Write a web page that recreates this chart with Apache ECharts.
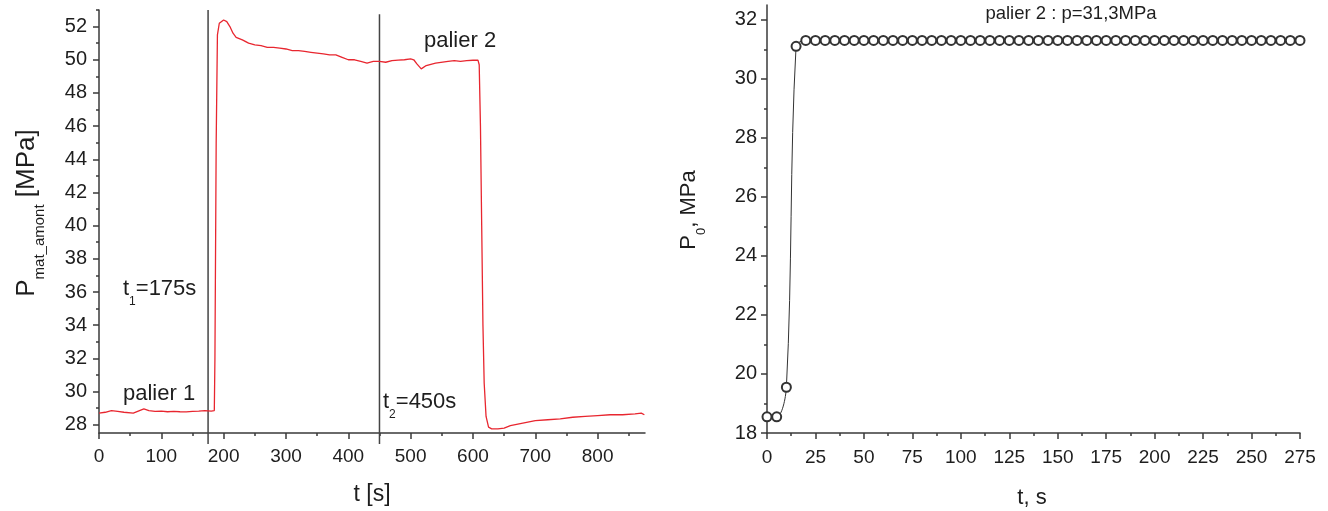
<!DOCTYPE html>
<html>
<head>
<meta charset="utf-8">
<script src="https://cdn.jsdelivr.net/npm/echarts@6/dist/echarts.min.js"></script>
<style>
html,body{margin:0;padding:0;background:#fff;}
#chart{width:1328px;height:511px;}
</style>
</head>
<body>
<div id="chart"></div>
<script>
// ---- Left chart data: P_mat_amont [MPa] vs t [s] ----
const leftTime = [0,10,20,30,40,55,65,72,80,90,100,110,120,130,140,150,160,170,180,185,186,188,190,193,200,205,210,215,220,230,240,250,260,270,280,290,300,310,320,330,340,350,360,370,380,390,400,410,420,430,440,450,460,470,480,490,500,505,510,517,525,540,560,570,580,590,600,608,610,612,614,616,618,621,625,630,640,650,660,680,700,720,740,760,780,800,820,840,860,870,875];
const leftPressure = [28.7,28.75,28.85,28.8,28.75,28.7,28.85,28.95,28.85,28.8,28.82,28.78,28.8,28.78,28.77,28.8,28.82,28.85,28.82,28.85,32,45,51.5,52.2,52.4,52.3,52.0,51.6,51.35,51.2,51.0,50.9,50.85,50.75,50.75,50.7,50.65,50.55,50.55,50.5,50.45,50.4,50.35,50.3,50.3,50.15,50.0,50.0,49.9,49.8,49.9,49.9,49.85,49.95,49.98,50.0,50.05,50.0,49.75,49.45,49.65,49.8,49.9,49.95,49.9,49.95,49.97,49.98,49.7,46,40,34,30.5,28.5,27.85,27.75,27.75,27.8,27.95,28.1,28.25,28.3,28.35,28.45,28.5,28.55,28.6,28.6,28.65,28.7,28.6];
const markerLines = [ {t:175, top:53, bottom:26.84}, {t:450, top:52.75, bottom:26.84} ];
const leftXLabels = [0,100,200,300,400,500,600,700,800];
const leftXMinor = [50,150,250,350,450,550,650,750,850];
const leftYLabels = [28,30,32,34,36,38,40,42,44,46,48,50,52];
const leftYMinor = [29,31,33,35,37,39,41,43,45,47,49,51,53];

// ---- Right chart data: P0, MPa vs t, s ----
const rightTime = [0,5,10,15,20,25,30,35,40,45,50,55,60,65,70,75,80,85,90,95,100,105,110,115,120,125,130,135,140,145,150,155,160,165,170,175,180,185,190,195,200,205,210,215,220,225,230,235,240,245,250,255,260,265,270,275];
const rightPressure = [18.55,18.55,19.55,31.1,31.3,31.3,31.3,31.3,31.3,31.3,31.3,31.3,31.3,31.3,31.3,31.3,31.3,31.3,31.3,31.3,31.3,31.3,31.3,31.3,31.3,31.3,31.3,31.3,31.3,31.3,31.3,31.3,31.3,31.3,31.3,31.3,31.3,31.3,31.3,31.3,31.3,31.3,31.3,31.3,31.3,31.3,31.3,31.3,31.3,31.3,31.3,31.3,31.3,31.3,31.3,31.3];
const rightYLabels = [18,20,22,24,26,28,30,32];
const rightYMinor = [19,21,23,25,27,29,31];

const FONT = "'Liberation Sans', Arial, sans-serif";
const AX = '#3a3a3a';
const TXT = '#1e1e1e';

const chart = echarts.init(document.getElementById('chart'), null, {renderer:'canvas'});

function pairs(xs, ys){ return xs.map((x,i)=>[x, ys[i]]); }

const option = {
  backgroundColor:'#fff',
  animation:false,
  grid:[
    {left:99, top:10, width:546, height:423},
    {left:767, top:5, width:533, height:428}
  ],
  xAxis:[
    {gridIndex:0, type:'value', position:'bottom', min:0, max:876,
     axisLine:{show:true, onZero:false, lineStyle:{color:AX, width:1.5}},
     axisTick:{show:true, customValues:leftXLabels, length:6, lineStyle:{color:AX, width:1.5}},
     axisLabel:{show:true, customValues:leftXLabels, margin:14, fontSize:19, color:TXT, fontFamily:FONT},
     splitLine:{show:false}},
    {gridIndex:0, type:'value', position:'bottom', offset:0, min:0, max:876,
     axisLine:{show:false, onZero:false}, axisLabel:{show:false}, splitLine:{show:false},
     axisTick:{show:true, customValues:leftXMinor, length:3, lineStyle:{color:AX, width:1.5}}},
    {gridIndex:1, type:'value', position:'bottom', min:0, max:275, interval:25,
     axisLine:{show:true, onZero:false, lineStyle:{color:AX, width:1.5}},
     axisTick:{show:true, length:6, lineStyle:{color:AX, width:1.5}},
     minorTick:{show:true, splitNumber:2, length:3, lineStyle:{color:AX, width:1.5}},
     axisLabel:{show:true, margin:15, fontSize:19, color:TXT, fontFamily:FONT},
     splitLine:{show:false}, minorSplitLine:{show:false}}
  ],
  yAxis:[
    {gridIndex:0, type:'value', position:'left', min:27.5, max:53,
     axisLine:{show:true, onZero:false, lineStyle:{color:AX, width:1.5}},
     axisTick:{show:true, customValues:leftYLabels, length:6, lineStyle:{color:AX, width:1.5}},
     axisLabel:{show:true, customValues:leftYLabels, margin:12, fontSize:20, color:TXT, fontFamily:FONT},
     splitLine:{show:false}},
    {gridIndex:0, type:'value', position:'left', offset:0, min:27.5, max:53,
     axisLine:{show:false, onZero:false}, axisLabel:{show:false}, splitLine:{show:false},
     axisTick:{show:true, customValues:leftYMinor, length:3, lineStyle:{color:AX, width:1.5}}},
    {gridIndex:1, type:'value', position:'left', min:18, max:32.5,
     axisLine:{show:true, onZero:false, lineStyle:{color:AX, width:1.5}},
     axisTick:{show:true, customValues:rightYLabels, length:6, lineStyle:{color:AX, width:1.5}},
     axisLabel:{show:true, customValues:rightYLabels, margin:10, fontSize:20, color:TXT, fontFamily:FONT},
     splitLine:{show:false}},
    {gridIndex:1, type:'value', position:'left', offset:0, min:18, max:32.5,
     axisLine:{show:false, onZero:false}, axisLabel:{show:false}, splitLine:{show:false},
     axisTick:{show:true, customValues:rightYMinor, length:3, lineStyle:{color:AX, width:1.5}}}
  ],
  series:[
    {type:'line', xAxisIndex:0, yAxisIndex:0, data:pairs(leftTime,leftPressure),
     showSymbol:false, symbol:'none', lineStyle:{color:'#e8262f', width:1.3}, z:3},
    ...markerLines.map(m=>({type:'line', xAxisIndex:0, yAxisIndex:0, clip:false,
      data:[[m.t,m.top],[m.t,m.bottom]], symbol:'none', lineStyle:{color:'#444', width:1.5}, z:2})),
    {type:'line', xAxisIndex:2, yAxisIndex:2, data:pairs(rightTime,rightPressure),
     smooth:0.35, symbol:'emptyCircle', symbolSize:9, clip:false,
     lineStyle:{color:'#333', width:1}, itemStyle:{color:'#333', borderColor:'#333', borderWidth:1}}
  ],
  graphic:[
    {type:'text', x:26.5, y:213, rotation:Math.PI/2,
     style:{text:'{a|P}{b|mat_amont}{a| [MPa]}', align:'center', verticalAlign:'middle',
       rich:{a:{fontSize:26, lineHeight:42, fontFamily:FONT, fill:TXT}, b:{fontSize:15, lineHeight:15, verticalAlign:'bottom', fontFamily:FONT, fill:TXT}}}},
    {type:'text', x:689, y:210, rotation:Math.PI/2,
     style:{text:'{a|P}{b|0}{a|, MPa}', align:'center', verticalAlign:'middle',
       rich:{a:{fontSize:22, lineHeight:37, fontFamily:FONT, fill:TXT}, b:{fontSize:13, lineHeight:13, verticalAlign:'bottom', fontFamily:FONT, fill:TXT}}}},
    {type:'text', x:372, y:495,
     style:{text:'t [s]', align:'center', verticalAlign:'middle', fontSize:23, fontFamily:FONT, fill:TXT}},
    {type:'text', x:1032, y:498,
     style:{text:'t, s', align:'center', verticalAlign:'middle', fontSize:22, fontFamily:FONT, fill:TXT}},
    {type:'text', x:123, y:394,
     style:{text:'palier 1', align:'left', verticalAlign:'middle', fontSize:22, fontFamily:FONT, fill:TXT}},
    {type:'text', x:424, y:41,
     style:{text:'palier 2', align:'left', verticalAlign:'middle', fontSize:22, fontFamily:FONT, fill:TXT}},
    {type:'text', x:123, y:289,
     style:{text:'{a|t}{b|1}{a|=175s}', align:'left', verticalAlign:'middle',
       rich:{a:{fontSize:22, lineHeight:37, fontFamily:FONT, fill:TXT}, b:{fontSize:12, lineHeight:12, verticalAlign:'bottom', fontFamily:FONT, fill:TXT}}}},
    {type:'text', x:383, y:402,
     style:{text:'{a|t}{b|2}{a|=450s}', align:'left', verticalAlign:'middle',
       rich:{a:{fontSize:22, lineHeight:37, fontFamily:FONT, fill:TXT}, b:{fontSize:12, lineHeight:12, verticalAlign:'bottom', fontFamily:FONT, fill:TXT}}}},
    {type:'text', x:1071, y:14,
     style:{text:'palier 2 : p=31,3MPa', align:'center', verticalAlign:'middle', fontSize:18.5, fontFamily:FONT, fill:TXT}}
  ]
};
chart.setOption(option);
</script>
</body>
</html>
